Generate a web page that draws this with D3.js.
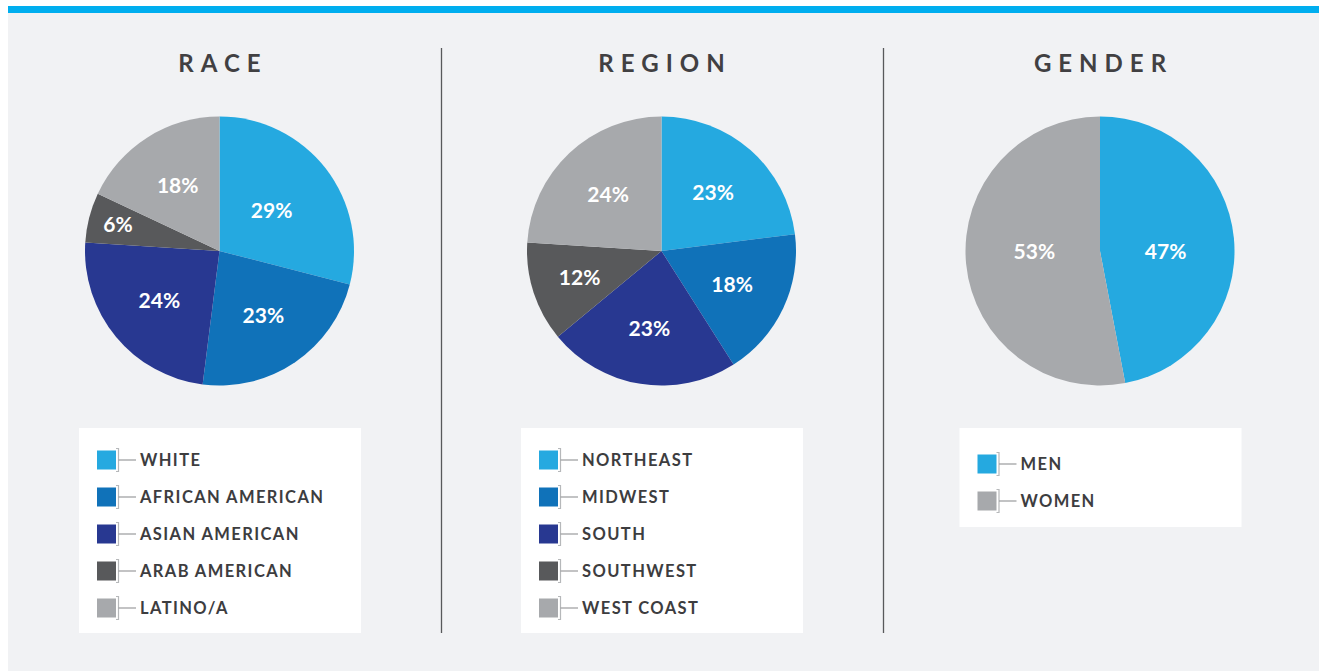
<!DOCTYPE html>
<html><head><meta charset="utf-8">
<script src="https://cdn.jsdelivr.net/npm/d3@7"></script>
<style>
html,body{margin:0;padding:0;background:#fff;}
svg{display:block;font-family:Lato,"Open Sans",sans-serif;}
</style></head>
<body>
<svg id="c" width="1319" height="671"></svg>
<script>
// ---- data ----
const raceCategories = ["WHITE","AFRICAN AMERICAN","ASIAN AMERICAN","ARAB AMERICAN","LATINO/A"];
const raceValues = [29,23,24,6,18];
const regionCategories = ["NORTHEAST","MIDWEST","SOUTH","SOUTHWEST","WEST COAST"];
const regionValues = [23,18,23,12,24];
const genderCategories = ["MEN","WOMEN"];
const genderValues = [47,53];
const titles = ["RACE","REGION","GENDER"];
const palette5 = ["#25a9e0","#1072b9","#283891","#58595b","#a7a9ac"];
const palette2 = ["#25a9e0","#a7a9ac"];

const charts = [
  {title:titles[0], cats:raceCategories, vals:raceValues, colors:palette5},
  {title:titles[1], cats:regionCategories, vals:regionValues, colors:palette5},
  {title:titles[2], cats:genderCategories, vals:genderValues, colors:palette2}
];

const svg = d3.select("#c");
// background
svg.append("rect").attr("x",8).attr("y",13).attr("width",1311).attr("height",658).attr("fill","#f1f2f4");
svg.append("rect").attr("x",8).attr("y",6).attr("width",1311).attr("height",7).attr("fill","#00aeef");

// dividers
[441.5, 883.5].forEach(x=>{
  svg.append("line").attr("x1",x).attr("x2",x).attr("y1",48).attr("y2",633)
    .attr("stroke","#58595b").attr("stroke-width",1.3);
});

const centers = [219.5, 661.5, 1100];
const cy = 251, R = 134.5;
const pie = d3.pie().sort(null).value(d=>d);
const arc = d3.arc().innerRadius(0).outerRadius(R);

function labelFactor(v){
  if (v >= 40) return 0.49;
  if (v >= 28) return 0.49;
  if (v < 8) return 0.78;
  if (v < 15) return 0.64;
  return 0.58;
}

charts.forEach((ch,i)=>{
  const cx = centers[i];
  const g = svg.append("g");
  // title
  g.append("text").attr("x",cx+3.5).attr("y",72).attr("text-anchor","middle")
    .attr("font-size",24).attr("font-weight",700).attr("letter-spacing",7)
    .attr("fill","#414042").text(ch.title);
  const pg = g.append("g").attr("transform",`translate(${cx},${cy})`);
  const arcs = pie(ch.vals);
  const twoSlice = ch.vals.length === 2;
  pg.selectAll("path").data(arcs).join("path")
    .attr("d",arc).attr("fill",(d,j)=>ch.colors[j]);
  pg.selectAll("text").data(arcs).join("text")
    .attr("transform",d=>{
      const a=(d.startAngle+d.endAngle)/2, r=R*labelFactor(d.data);
      const y = twoSlice ? 0 : -Math.cos(a)*r;
      return `translate(${Math.sin(a)*r},${y})`;
    })
    .attr("text-anchor","middle").attr("dy","0.36em")
    .attr("font-size",21).attr("font-weight",700).attr("fill","#fff")
    .text(d=>d.data+"%");

  // legend
  const lx = cx-140.5, ly = 428, lw = 282;
  const lh = ch.cats.length===5 ? 205 : 99;
  g.append("rect").attr("x",lx).attr("y",ly).attr("width",lw).attr("height",lh).attr("fill","#fff");
  const rowStart = ch.cats.length===5 ? 460 : 464;
  const sx = lx + 18;
  const items = g.selectAll("g.item").data(ch.cats).join("g").attr("class","item")
    .attr("transform",(d,j)=>`translate(${sx},${rowStart+j*37})`);
  items.append("rect").attr("x",0).attr("y",-9.5).attr("width",19).attr("height",19)
    .attr("fill",(d,j)=>ch.colors[j]);
  items.append("path").attr("d","M19,-11.5 H21.5 V11.5 H19")
    .attr("fill","none").attr("stroke","#b6b8ba").attr("stroke-width",1.2);
  items.append("line").attr("x1",21.5).attr("x2",39).attr("y1",0).attr("y2",0)
    .attr("stroke","#9a9b9d").attr("stroke-width",1.2);
  items.append("text").attr("x",43).attr("y",0).attr("dy","0.36em")
    .attr("font-size",16.5).attr("font-weight",700).attr("letter-spacing",1.4)
    .attr("fill","#3d3d3f").text(d=>d);
});
</script>
</body></html>
